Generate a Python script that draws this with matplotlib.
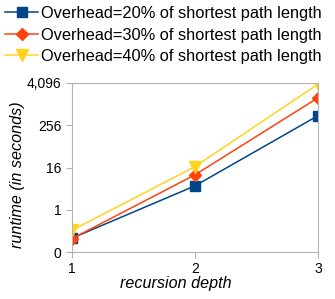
import matplotlib.pyplot as plt
from matplotlib.ticker import FixedLocator, NullLocator

plt.rcParams['font.family'] = ['Liberation Sans', 'DejaVu Sans']

depth = [1, 2, 3]
overhead20 = [0.155, 4.8, 480]
overhead30 = [0.15, 9.9, 1550]
overhead40 = [0.26, 17, 3800]
labels = ['Overhead=20% of shortest path length',
          'Overhead=30% of shortest path length',
          'Overhead=40% of shortest path length']
yticks = [0.0625, 1, 16, 256, 4096]
yticklabels = ['0', '1', '16', '256', '4,096']

fig = plt.figure(figsize=(3.35, 2.99), dpi=100)
ax = fig.add_axes([72/335, 1 - 252/299, (318 - 72)/335, (252 - 83)/299])

ax.plot(depth, overhead20, color='#004586', marker='s', markersize=7, lw=1.1, label=labels[0])
ax.plot(depth, overhead30, color='#ff420e', marker='D', markersize=6, lw=1.1, label=labels[1])
ax.plot(depth, overhead40, color='#ffd320', marker='v', markersize=9, lw=1.1, label=labels[2])

ax.set_yscale('log', base=2)
ax.set_ylim(0.0625, 4096)
ax.yaxis.set_major_locator(FixedLocator(yticks))
ax.yaxis.set_minor_locator(NullLocator())
ax.set_yticklabels(yticklabels)
ax.set_xlim(1, 3)
ax.set_xticks(depth)
ax.tick_params(labelsize=10, color='#b3b3b3', length=4)
for s in ax.spines.values():
    s.set_color('#b3b3b3')

ax.set_xlabel('recursion depth', fontsize=11.6, style='italic')
ax.set_ylabel('runtime (in seconds)', fontsize=11.6, style='italic')
ax.xaxis.set_label_coords(0.423, -0.142)
ax.yaxis.set_label_coords(-0.192, 0.46)

fig.legend(loc='upper left', bbox_to_anchor=(-0.014, 1.013), frameon=False, fontsize=11.8,
           handlelength=2.0, handletextpad=0.2, labelspacing=0.4, borderaxespad=0.2)

fig.savefig('out.png', dpi=100)
